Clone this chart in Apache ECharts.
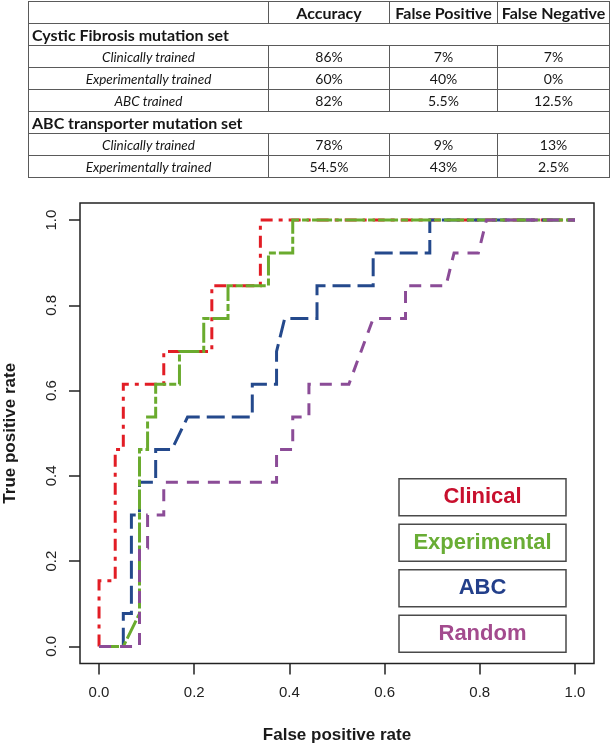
<!DOCTYPE html>
<html><head><meta charset="utf-8">
<script src="https://cdn.jsdelivr.net/npm/echarts@6/dist/echarts.min.js"></script>
<style>
html,body{margin:0;padding:0;background:#fff;}
#wrap{position:relative;width:614px;height:745px;overflow:hidden;}
#chart{position:absolute;left:0;top:0;width:614px;height:745px;}
#tbl{position:absolute;left:28px;top:1px;border-collapse:collapse;font-family:Lato,'Open Sans',sans-serif;color:#161616;table-layout:fixed;z-index:2;}
#tbl td{border:1.4px solid #5a5a5a;height:21px;padding:0;text-align:center;font-size:14px;line-height:20px;white-space:nowrap;}
#tbl td.hd{font-weight:bold;font-size:16px;}
#tbl td.sec{font-weight:bold;font-size:16px;text-align:left;padding-left:3px;}
#tbl td.lab{font-style:italic;font-size:13.5px;}
</style></head>
<body><div id="wrap"><table id="tbl"></table><div id="chart"></div></div>
<script>
// ---- table data ----
const tableColumns = ['Accuracy', 'False Positive', 'False Negative'];
const tableSections = ['Cystic Fibrosis mutation set', 'ABC transporter mutation set'];
const cfRowLabels = ['Clinically trained', 'Experimentally trained', 'ABC trained'];
const cfAccuracy = ['86%', '60%', '82%'];
const cfFalsePositive = ['7%', '40%', '5.5%'];
const cfFalseNegative = ['7%', '0%', '12.5%'];
const abcRowLabels = ['Clinically trained', 'Experimentally trained'];
const abcAccuracy = ['78%', '54.5%'];
const abcFalsePositive = ['9%', '43%'];
const abcFalseNegative = ['13%', '2.5%'];

// ---- ROC curve data ----
const seriesNames = ['Clinical', 'Experimental', 'ABC', 'Random'];
const clinicalFPR = [0, 0, 0.034, 0.034, 0.051, 0.051, 0.136, 0.136, 0.237, 0.237, 0.339, 0.339, 1];
const clinicalTPR = [0, 0.154, 0.154, 0.462, 0.462, 0.615, 0.615, 0.692, 0.692, 0.846, 0.846, 1, 1];
const experimentalFPR = [0, 0.051, 0.085, 0.085, 0.102, 0.102, 0.119, 0.119, 0.169, 0.169, 0.220, 0.220, 0.271, 0.271, 0.356, 0.356, 0.407, 0.407, 1];
const experimentalTPR = [0, 0, 0.077, 0.462, 0.462, 0.538, 0.538, 0.615, 0.615, 0.692, 0.692, 0.769, 0.769, 0.846, 0.846, 0.923, 0.923, 1, 1];
const abcFPR = [0, 0.051, 0.051, 0.068, 0.068, 0.085, 0.085, 0.119, 0.119, 0.153, 0.186, 0.322, 0.322, 0.373, 0.373, 0.390, 0.458, 0.458, 0.576, 0.576, 0.695, 0.695, 1];
const abcTPR = [0, 0, 0.077, 0.077, 0.308, 0.308, 0.385, 0.385, 0.462, 0.462, 0.538, 0.538, 0.615, 0.615, 0.692, 0.769, 0.769, 0.846, 0.846, 0.923, 0.923, 1, 1];
const randomFPR = [0, 0.085, 0.085, 0.102, 0.102, 0.136, 0.136, 0.373, 0.373, 0.407, 0.407, 0.441, 0.441, 0.525, 0.576, 0.644, 0.644, 0.729, 0.746, 0.797, 0.814, 1];
const randomTPR = [0, 0, 0.231, 0.231, 0.308, 0.308, 0.385, 0.385, 0.462, 0.462, 0.538, 0.538, 0.615, 0.615, 0.769, 0.769, 0.846, 0.846, 0.923, 0.923, 1, 1];
const xTicks = [0, 0.2, 0.4, 0.6, 0.8, 1.0];
const yTicks = [0, 0.2, 0.4, 0.6, 0.8, 1.0];

// ---- build table ----
(function () {
  const t = document.getElementById('tbl');
  const colW = [240, 121, 108, 112];
  let html = '<colgroup>' + colW.map(w => '<col style="width:' + w + 'px">').join('') + '</colgroup>';
  html += '<tr><td></td>' + tableColumns.map(c => '<td class="hd">' + c + '</td>').join('') + '</tr>';
  html += '<tr><td class="sec" colspan="4">' + tableSections[0] + '</td></tr>';
  cfRowLabels.forEach((l, i) => {
    html += '<tr><td class="lab">' + l + '</td><td>' + cfAccuracy[i] + '</td><td>' + cfFalsePositive[i] + '</td><td>' + cfFalseNegative[i] + '</td></tr>';
  });
  html += '<tr><td class="sec" colspan="4">' + tableSections[1] + '</td></tr>';
  abcRowLabels.forEach((l, i) => {
    html += '<tr><td class="lab">' + l + '</td><td>' + abcAccuracy[i] + '</td><td>' + abcFalsePositive[i] + '</td><td>' + abcFalseNegative[i] + '</td></tr>';
  });
  t.innerHTML = html;
})();

function zip(a, b) { return a.map((v, i) => [v, b[i]]); }

const lineColors = { Clinical: '#e21d25', Experimental: '#6aab2e', ABC: '#24498c', Random: '#8b4c97' };
const textColors = { Clinical: '#c8102e', Experimental: '#69ad35', ABC: '#233f8a', Random: '#a34b8e' };
const dashes = { Clinical: [12, 6, 4, 6], Experimental: [20, 3, 7, 3], ABC: [18, 7], Random: [12, 9] };

function mk(name, fpr, tpr) {
  return {
    name: name, type: 'line', data: zip(fpr, tpr), symbol: 'none', silent: true,
    lineStyle: { color: lineColors[name], width: 3, type: dashes[name], cap: 'butt', join: 'miter' },
    itemStyle: { color: lineColors[name] }
  };
}

const chart = echarts.init(document.getElementById('chart'), null, { renderer: 'canvas' });
const axisFont = 'Liberation Sans, Arial, Helvetica, sans-serif';
chart.setOption({
  animation: false,
  backgroundColor: '#fff',
  grid: { left: 80, top: 203, right: 20, bottom: 81.5, show: true, borderColor: '#222', borderWidth: 1.5, backgroundColor: 'transparent', containLabel: false, outerBoundsMode: 'none' },
  xAxis: {
    type: 'value', min: -0.04, max: 1.04, position: 'bottom',
    name: 'False positive rate', nameLocation: 'middle', nameGap: 63,
    nameTextStyle: { fontFamily: axisFont, fontWeight: 'bold', fontSize: 17, color: '#1a1a1a' },
    axisLine: { show: false, onZero: false },
    axisTick: { show: true, customValues: xTicks, length: 11, lineStyle: { color: '#222', width: 1.5 } },
    axisLabel: { customValues: xTicks, formatter: v => v.toFixed(1), margin: 22, fontFamily: axisFont, fontSize: 15, color: '#222' },
    splitLine: { show: false }
  },
  yAxis: {
    type: 'value', min: -0.04, max: 1.04, position: 'left',
    name: 'True positive rate', nameLocation: 'middle', nameGap: 61,
    nameTextStyle: { fontFamily: axisFont, fontWeight: 'bold', fontSize: 17, color: '#1a1a1a' },
    axisLine: { show: false, onZero: false },
    axisTick: { show: true, customValues: yTicks, length: 11, lineStyle: { color: '#222', width: 1.5 } },
    axisLabel: { customValues: yTicks, rotate: 90, formatter: v => v.toFixed(1), margin: 21, fontFamily: axisFont, fontSize: 15, color: '#222' },
    splitLine: { show: false }
  },
  legend: {
    orient: 'vertical', left: 389, top: 473, itemWidth: 0, itemHeight: 0, itemGap: 7,
    icon: 'none', selectedMode: false,
    data: seriesNames.map(n => ({ name: n, icon: 'none', textStyle: { color: textColors[n] } })),
    formatter: n => '{c|' + n + '}',
    textStyle: {
      width: 167, height: 37, padding: 0, borderColor: '#4a4a4a', borderWidth: 1.5,
      fontFamily: axisFont, fontWeight: 'bold', fontSize: 22,
      rich: { c: { width: 167, height: 37, lineHeight: 37, align: 'center', fontFamily: axisFont, fontWeight: 'bold', fontSize: 22 } }
    }
  },
  series: [
    mk('Clinical', clinicalFPR, clinicalTPR),
    mk('ABC', abcFPR, abcTPR),
    mk('Experimental', experimentalFPR, experimentalTPR),
    mk('Random', randomFPR, randomTPR)
  ]
});
</script></body></html>
